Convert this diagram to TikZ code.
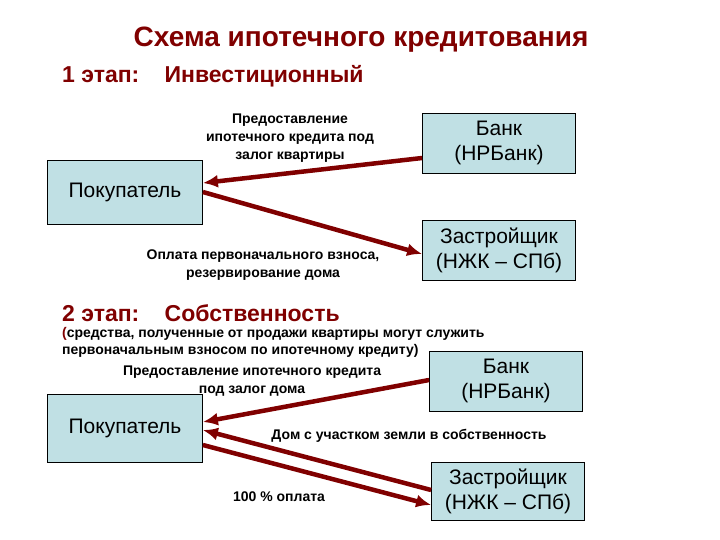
\documentclass[tikz,border=0pt]{standalone}
\usepackage{fontspec}
\setmainfont{Liberation Sans}
\usepackage{tikz}
\usetikzlibrary{positioning,arrows.meta}

\definecolor{darkred}{RGB}{128,0,0}
\definecolor{boxblue}{RGB}{192,224,228}

\begin{document}
\begin{tikzpicture}[
    x=1pt, y=-1pt,
    party/.style={rectangle, draw=black, line width=0.8pt, fill=boxblue, minimum width=153pt, minimum height=60pt, align=center, inner sep=2pt, font=\fontsize{21}{25}\selectfont, text=black},
    title/.style={font=\fontsize{28}{32}\selectfont\bfseries, text=darkred},
    stage/.style={font=\fontsize{23}{27}\selectfont\bfseries, text=darkred, anchor=west, inner sep=0pt},
    lab/.style={font=\fontsize{14}{18}\selectfont\bfseries, text=black, align=center, inner sep=1pt},
    note/.style={font=\fontsize{14}{17}\selectfont\bfseries, text=black, align=left, inner sep=0pt},
    flow/.style={-{Latex[length=15pt,width=13pt]}, line width=4.5pt, color=darkred}
]
\useasboundingbox (0,0) rectangle (720,540);

% ---------------- headings
\node[title] (head) at (361,40) {Схема ипотечного кредитования};
\node[stage] (st1) at (62,76) {1 этап:\hspace{1.1em}Инвестиционный};

% ---------------- stage 1
\node[party] (bank1)  at (499,143) {Банк\\(НРБанк)};
\node[party, minimum width=155pt, minimum height=64pt] (pok1) at (125,192) {Покупатель};
\node[party] (zastr1) at (499,250) {Застройщик\\(НЖК -- СПб)};

\node[lab] (lab1) at (290,138) {Предоставление\\ипотечного кредита под\\залог квартиры};
\node[lab] (lab2) at (263,265) {Оплата первоначального взноса,\\резервирование дома};

\draw[flow] ([yshift=-15pt]bank1.west) -- ([yshift=9pt]pok1.east);
\draw[flow] ([yshift=0pt]pok1.east) -- ([yshift=-4pt]zastr1.west);

% ---------------- stage 2
\node[stage] (st2) at (62,313) {2 этап:\hspace{1.1em}Собственность};
\node[note, anchor=north west] (note2) at (62,327)
    {{\color{darkred}(}средства, полученные от продажи квартиры могут служить\\первоначальным взносом по ипотечному кредиту)};

\node[party] (bank2)  at (506,381) {Банк\\(НРБанк)};
\node[party, minimum width=155pt, minimum height=68pt] (pok2) at (125,428) {Покупатель};
\node[party, minimum height=58pt] (zastr2) at (508,491) {Застройщик\\(НЖК -- СПб)};

\node[lab] (lab3) at (252,381) {Предоставление ипотечного кредита\\под залог дома};
\node[lab] (lab4) at (409,436) {Дом с участком земли в собственность};
\node[lab] (lab5) at (279,497) {100 \% оплата};

\draw[flow] ([yshift=1pt]bank2.west) -- ([yshift=6pt]pok2.east);
\draw[flow] ([yshift=1pt]zastr2.west) -- ([yshift=-2pt]pok2.east);
\draw[flow] ([yshift=-17pt]pok2.east) -- ([yshift=-14pt]zastr2.west);

\end{tikzpicture}
\end{document}
